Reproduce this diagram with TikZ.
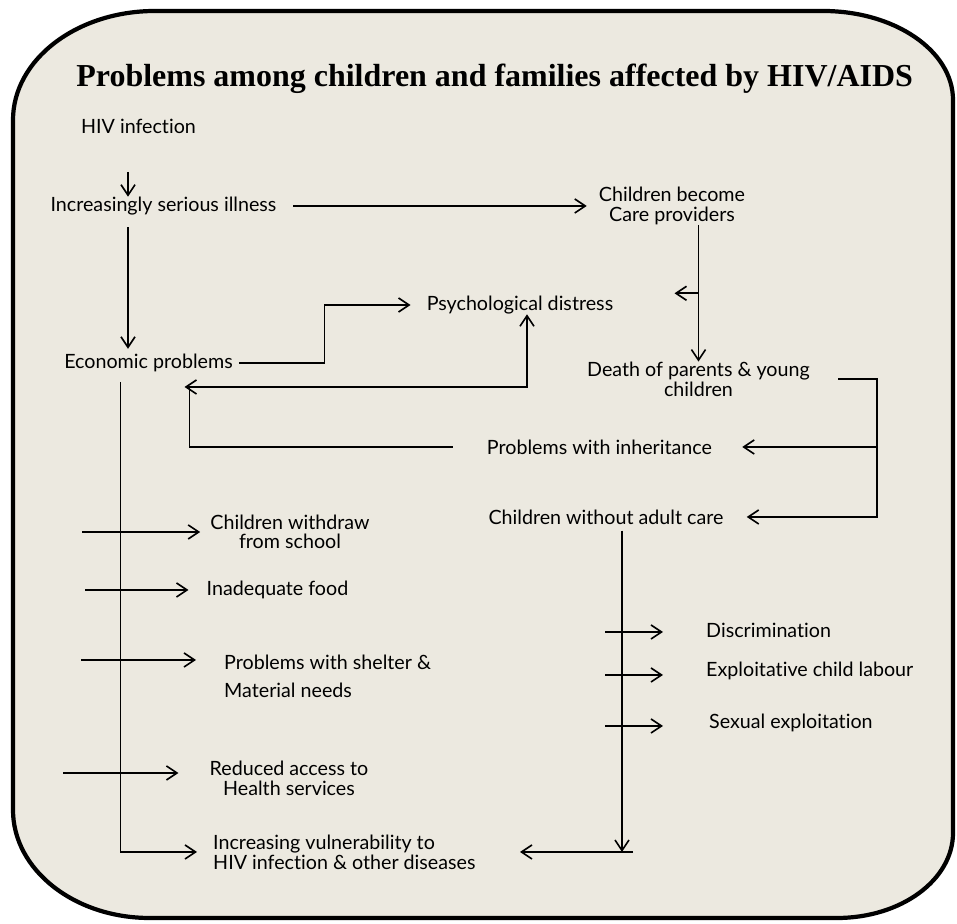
\documentclass[tikz,border=0pt]{standalone}
\usepackage{fontspec}
\setmainfont{Lato}[Ligatures=NoCommon]
\newfontfamily\headfont{Liberation Serif}
\usetikzlibrary{arrows.meta, calc}

\definecolor{panel}{RGB}{236,233,224}
\tikzset{
  >={Straight Barb[length=9pt,width=12pt]},
  box/.style={inner sep=0pt, align=center, font=\fontsize{16.8}{16.8}\selectfont},
  link/.style={line width=1.4pt, ->},
  both/.style={line width=1.4pt, <->},
  plain/.style={line width=1.4pt},
  rim/.style={line width=3.6pt, fill=panel},
}

\begin{document}
\begin{tikzpicture}
\useasboundingbox (0,0) rectangle (28.71,27.72);
\draw[rim] (0.39,3.42) -- (0.39,24.12) arc[start angle=180, end angle=90, x radius=4.26, y radius=3.27]
  -- (24.69,27.39) arc[start angle=90, end angle=0, x radius=3.9, y radius=2.67]
  -- (28.59,2.73) arc[start angle=0, end angle=-90, x radius=3.48, y radius=2.55]
  -- (4.49,0.18) arc[start angle=-90, end angle=-180, x radius=4.1, y radius=3.24]
  -- cycle;

\node[inner sep=0pt, font=\headfont\fontsize{27.3}{30}\selectfont\bfseries] (title) at (14.84,25.35) {Problems among children and families affected by HIV/AIDS};

\node[box] (hiv) at (4.155,23.94) {HIV infection};
\node[box] (illness) at (4.905,21.54) {Increasingly serious illness};
\node[box] (carers) at (20.16,21.54) {Children become\\Care providers};
\node[box] (distress) at (15.60,18.57) {Psychological distress};
\node[box] (economic) at (4.455,16.83) {Economic problems};
\node[box] (death) at (20.955,16.35) {Death of parents \& young\\children};
\node[box] (inherit) at (17.985,14.31) {Problems with inheritance};
\node[box] (orphans) at (18.18,12.21) {Children without adult care};

\node[box] (school) at (8.70,11.76) {Children withdraw\\from school};
\node[box] (food) at (8.325,10.02) {Inadequate food};
\node[box, anchor=west, align=left] (shelter) at (6.72,7.44) {Problems with shelter \&\\[7pt]Material needs};
\node[box] (health) at (8.67,4.38) {Reduced access to\\Health services};
\node[box, anchor=west, align=left] (vulnerable) at (6.39,2.16) {Increasing vulnerability to\\HIV infection \& other diseases};

\node[box, anchor=west] (stigma) at (21.18,8.82) {Discrimination};
\node[box, anchor=west] (labour) at (21.18,7.59) {Exploitative child labour};
\node[box, anchor=west] (sexual) at (21.27,6.03) {Sexual exploitation};

\coordinate (hivdrop) at (3.84,22.56);
\coordinate (deathturn) at ([xshift=2.01cm]death.east);
\coordinate (orphanspine) at ($(orphans.south)+(0.48,-0.18)$);
\coordinate (econspine) at ($(economic.center)+(-0.84,-0.57)$);

\draw[link] (hivdrop) -- (hivdrop |- illness.north);
\draw[link] ([xshift=0.5cm]illness.east) -- ([xshift=-0.36cm]carers.west);
\draw[link] ($(illness.south -| hivdrop)+(0,-0.36)$) -- ($(economic.north -| hivdrop)+(0,0.15)$);
\draw[link] (carers.south -| death.north) -- (death.north);
\draw[link] ($(carers.south -| death.north)!0.5!(death.north)$) -- ++(-0.72,0);

\draw[link] ([xshift=0.18cm]economic.east) -| ([xshift=-3.06cm]distress.west) -- ([xshift=-0.48cm]distress.west);
\draw[both] ([xshift=0.21cm]distress.south) |- ($(economic.center)+(1.08,-0.72)$);
\draw[plain] ([xshift=-1.02cm]inherit.west) -| ($(economic.center)+(1.23,-0.72)$);

\draw[link] ([xshift=0.84cm]death.east) -- (deathturn) |- ([xshift=0.69cm]orphans.east);
\draw[link] (deathturn |- inherit.east) -- ([xshift=0.9cm]inherit.east);

\draw[link] (orphanspine) -- (orphanspine |- vulnerable.west);
\draw[link] ($(orphanspine |- vulnerable.west)+(0.33,0)$) -- ++(-3.39,0);
\draw[link] (econspine) |- ([xshift=-0.48cm]vulnerable.west);

\draw[link] ([xshift=-3.84cm]school.west) -- ([xshift=-0.3cm]school.west);
\draw[link] ([xshift=-3.63cm]food.west) -- ([xshift=-0.54cm]food.west);
\draw[link] ([xshift=-4.29cm,yshift=0.48cm]shelter.west) -- ([xshift=-0.84cm,yshift=0.48cm]shelter.west);
\draw[link] ([xshift=-4.38cm,yshift=0.15cm]health.west) -- ([xshift=-0.93cm,yshift=0.15cm]health.west);

\draw[link] ([xshift=-3.03cm,yshift=-0.06cm]stigma.west) -- ([xshift=-1.29cm,yshift=-0.06cm]stigma.west);
\draw[link] ([xshift=-3.03cm,yshift=-0.12cm]labour.west) -- ([xshift=-1.29cm,yshift=-0.12cm]labour.west);
\draw[link] ([xshift=-3.12cm,yshift=-0.09cm]sexual.west) -- ([xshift=-1.38cm,yshift=-0.09cm]sexual.west);
\end{tikzpicture}
\end{document}
